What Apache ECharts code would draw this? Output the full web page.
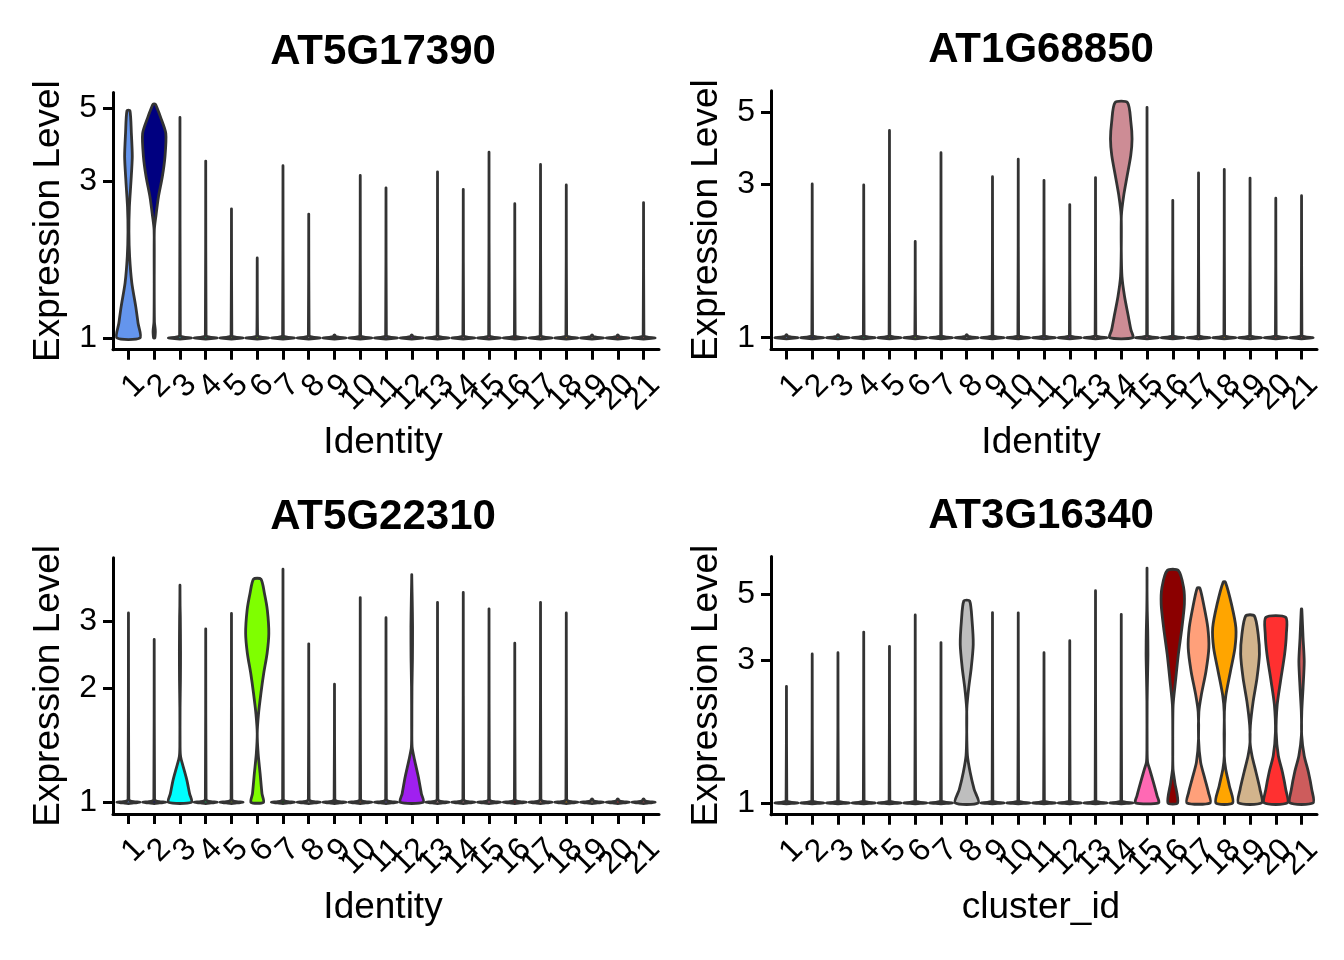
<!DOCTYPE html>
<html>
<head>
<meta charset="utf-8">
<script src="https://cdn.jsdelivr.net/npm/echarts@6/dist/echarts.min.js"></script>
<style>html,body{margin:0;padding:0;background:#fff}#chart{width:1344px;height:960px}</style>
</head>
<body>
<div id="chart"></div>
<script>
// ---------------- data ----------------
const clusters = ['1','2','3','4','5','6','7','8','9','10','11','12','13','14','15','16','17','18','19','20','21'];
const clusterColors = ['#6495ED','#000080','#00FFFF','#00CD66','#6B8E23','#7FFF00','#006400','#BEBEBE','#333333','#A0522D',
  '#6A5ACD','#A020F0','#FFB6C1','#CD8C95','#FF69B4','#8B0000','#FFA07A','#FFA500','#D2B48C','#FF3030','#CD5C5C'];
const genes = ['AT5G17390','AT1G68850','AT5G22310','AT3G16340'];
const xTitles = ['Identity','Identity','Identity','cluster_id'];
const yTitle = 'Expression Level';
const yTicks1 = [1,3,5];
const yTicks2 = [1,3,5];
const yTicks3 = [1,2,3];
const yTicks4 = [1,3,5];

// highest expression per cluster (top of each violin)
const maxAT5G17390 = [4.91,5.14,4.68,3.45,2.47,1.75,3.34,2.38,1,3.12,2.86,1,3.20,2.83,3.67,2.56,3.37,2.92,1,1,2.58];
const maxAT1G68850 = [1,3.00,1,2.98,4.40,1.99,3.75,1,3.16,3.58,3.08,2.59,3.14,5.37,5.19,2.67,3.25,3.33,3.13,2.71,2.76];
const maxAT5G22310 = [3.16,2.69,3.74,2.87,3.15,3.88,4.12,2.62,2.05,3.47,3.07,3.99,3.37,3.58,3.24,2.63,3.37,3.16,1,1,1];
const maxAT3G16340 = [2.46,3.16,3.19,3.74,3.35,4.27,3.45,4.76,4.35,4.34,3.19,3.50,5.15,4.29,6.13,6.02,5.25,5.50,4.24,4.19,4.47];

// density outline of clusters dominated by cells at level 1: [level, relative half-width]
const spikeProfile = [[0.992,0],[0.996,0.45],[1,1],[1.004,0.45],[1.01,0.12],[1.02,0.03]];

// outlines of the expressing clusters: [level, relative half-width]
const shapesAT5G17390 = {
  1: [[1,1],[1.108,0.83],[1.245,0.63],[1.47,0.29],[1.77,0.1],[2.1,0.04],[2.5,0.08],[3.0,0.22],[3.56,0.33],[4.2,0.25],[4.91,0.13]],
  2: [[1,0.05],[1.03,0.09],[1.06,0.09],[1.12,0.02],[1.5,0],[2.13,0.01],[2.34,0.14],[2.69,0.37],[3.09,0.7],[3.56,0.93],[4.19,1],[4.7,0.54],[5.0,0.25],[5.14,0.1]]
};
const shapesAT1G68850 = {
  14: [[1,1],[1.059,0.83],[1.165,0.61],[1.345,0.28],[1.55,0.06],[1.88,0],[2.39,0.01],[2.76,0.21],[3.18,0.51],[3.68,0.82],[4.14,0.93],[4.67,0.83],[5.37,0.54]]
};
const shapesAT5G22310 = {
  3: [[1,1],[1.054,0.83],[1.143,0.6],[1.239,0.29],[1.317,0.06],[1.4,0.01],[1.78,0.01],[2.1,0.04],[2.5,0.05],[3.08,0.03],[3.3,0.01],[3.74,0]],
  6: [[1,0.54],[1.054,0.41],[1.19,0.25],[1.344,0.08],[1.52,0],[1.71,0.11],[1.94,0.32],[2.19,0.56],[2.47,0.85],[2.79,1],[3.21,0.875],[3.56,0.62],[3.88,0.32]],
  12: [[1,1],[1.054,0.83],[1.166,0.57],[1.29,0.25],[1.4,0.03],[1.6,0.01],[2.02,0.02],[2.4,0.06],[2.9,0.07],[3.4,0.04],[3.8,0.01],[3.99,0]]
};
const shapesAT3G16340 = {
  8: [[1,1],[1.11,0.64],[1.27,0.29],[1.44,0.06],[1.73,0],[2.08,0.01],[2.43,0.17],[2.84,0.39],[3.4,0.56],[4.08,0.46],[4.76,0.25]],
  15: [[1,1],[1.056,0.87],[1.17,0.56],[1.3,0.22],[1.37,0.05],[1.5,0.01],[2.19,0.01],[2.7,0.05],[3.15,0.08],[3.8,0.06],[4.41,0.02],[5.2,0],[6.13,0]],
  16: [[1,0.42],[1.17,0.18],[1.3,0.02],[1.6,0],[2.13,0.03],[2.55,0.23],[3.15,0.48],[3.87,0.79],[4.64,1],[5.29,0.93],[6.02,0.48]],
  17: [[1,1],[1.083,0.86],[1.2,0.56],[1.37,0.18],[1.64,0],[2.02,0.03],[2.3,0.24],[2.76,0.64],[3.31,0.89],[3.87,0.8],[4.53,0.49],[5.25,0.12]],
  18: [[1,0.73],[1.14,0.44],[1.3,0.12],[1.44,0],[2.02,0.01],[2.3,0.14],[2.76,0.53],[3.31,0.92],[3.87,1],[4.64,0.62],[5.5,0.1]],
  19: [[1,1],[1.11,0.86],[1.27,0.51],[1.44,0.17],[1.6,0],[1.82,0.03],[2.19,0.27],[2.62,0.6],[3.15,0.81],[3.68,0.7],[4.24,0.37]],
  20: [[1,1],[1.11,0.86],[1.27,0.57],[1.44,0.22],[1.73,0.03],[2.13,0.12],[2.55,0.4],[3.15,0.76],[3.68,0.91],[4.19,0.86]],
  21: [[1,1],[1.11,0.88],[1.27,0.59],[1.44,0.23],[1.69,0.01],[2.02,0.02],[2.43,0.13],[2.98,0.23],[3.58,0.13],[4.47,0.02]]
};

// ---------------- layout / style ----------------
const FONT = "'Liberation Sans', Arial, Helvetica, sans-serif";
const HALF = 0.45; // max violin half-width in category units
const X_MIN = 0.4, X_MAX = 21.6; // discrete-axis expansion of 0.6 band each side
const panels = [
  {maxVals: maxAT5G17390, shapes: shapesAT5G17390, ticks: yTicks1, yMin: 0.921, yMax: 5.58,
   grid: {left: 113, top: 92.4, width: 546, height: 257.3}},
  {maxVals: maxAT1G68850, shapes: shapesAT1G68850, ticks: yTicks2, yMin: 0.919, yMax: 5.84,
   grid: {left: 771, top: 90.8, width: 546, height: 258.7}},
  {maxVals: maxAT5G22310, shapes: shapesAT5G22310, ticks: yTicks3, yMin: 0.932, yMax: 4.42,
   grid: {left: 113, top: 557.7, width: 546, height: 256.2}},
  {maxVals: maxAT3G16340, shapes: shapesAT3G16340, ticks: yTicks4, yMin: 0.913, yMax: 6.71,
   grid: {left: 771, top: 556.4, width: 546, height: 258.3}}
];
const xTickValues = clusters.map((c, i) => i + 1);
// empty spacer labels at both ends keep ECharts' min/max overlap check away from real labels
const xLabelValues = [X_MIN].concat(xTickValues, [X_MAX]);

function profileFor(panel, idx, maxV) {
  if (panel.shapes[idx]) return panel.shapes[idx];
  const p = spikeProfile.slice();
  if (maxV > 1.02) p.push([maxV, 0]);
  return p;
}

const grids = [], xAxes = [], yAxes = [], series = [], titles = [];
panels.forEach((panel, pi) => {
  grids.push(Object.assign({containLabel: false}, panel.grid));
  titles.push({
    text: genes[pi],
    left: panel.grid.left + panel.grid.width / 2 - 3,
    top: panel.grid.top - 61,
    textAlign: 'center',
    padding: 0,
    textStyle: {fontFamily: FONT, fontSize: 42, fontWeight: 'bold', color: '#000'}
  });
  xAxes.push({
    gridIndex: pi, type: 'value', min: X_MIN, max: X_MAX,
    name: xTitles[pi], nameLocation: 'middle', nameGap: 75,
    nameTextStyle: {fontFamily: FONT, fontSize: 37, color: '#000', padding: [0, 6, 0, 0]},
    axisLine: {show: true, onZero: false, lineStyle: {color: '#000', width: 3}},
    axisTick: {show: true, length: 10, lineStyle: {color: '#000', width: 3}, customValues: xTickValues},
    axisLabel: {show: true, rotate: 45, margin: 19, align: 'right', verticalAlign: 'top',
      hideOverlap: false,
      fontFamily: FONT, fontSize: 32, color: '#000',
      customValues: xLabelValues,
      formatter: v => (Math.abs(v - Math.round(v)) < 1e-6 ? clusters[Math.round(v) - 1] : '')},
    splitLine: {show: false}
  });
  yAxes.push({
    gridIndex: pi, type: 'log', logBase: 10, min: panel.yMin, max: panel.yMax,
    name: yTitle, nameLocation: 'middle', nameGap: 46, nameRotate: 90,
    nameTextStyle: {fontFamily: FONT, fontSize: 37, color: '#000'},
    axisLine: {show: true, onZero: false, lineStyle: {color: '#000', width: 3}},
    axisTick: {show: true, length: 10, lineStyle: {color: '#000', width: 3}, customValues: panel.ticks},
    axisLabel: {show: true, margin: 16, fontFamily: FONT, fontSize: 32, color: '#000',
      customValues: panel.ticks, formatter: v => String(Math.round(v))},
    splitLine: {show: false}
  });
  series.push({
    type: 'custom', xAxisIndex: pi, yAxisIndex: pi,
    data: clusters.map((c, i) => [i + 1, panel.maxVals[i]]),
    encode: {x: 0, y: 1},
    clip: false,
    renderItem: function (params, api) {
      const idx = api.value(0);
      const maxV = api.value(1);
      const prof = profileFor(panel, idx, maxV);
      const left = [], right = [];
      prof.forEach(([v, f]) => {
        left.push(api.coord([idx - f * HALF, v]));
        right.push(api.coord([idx + f * HALF, v]));
      });
      const pts = left.concat(right.reverse());
      return {
        type: 'polygon',
        shape: {points: pts, smooth: 0.25},
        style: {fill: clusterColors[idx - 1], stroke: '#333333', lineWidth: 2.8, lineJoin: 'round'}
      };
    }
  });
});

const chart = echarts.init(document.getElementById('chart'), null, {renderer: 'canvas'});
chart.setOption({
  animation: false,
  backgroundColor: '#ffffff',
  title: titles,
  grid: grids,
  xAxis: xAxes,
  yAxis: yAxes,
  series: series
});
</script>
</body>
</html>
